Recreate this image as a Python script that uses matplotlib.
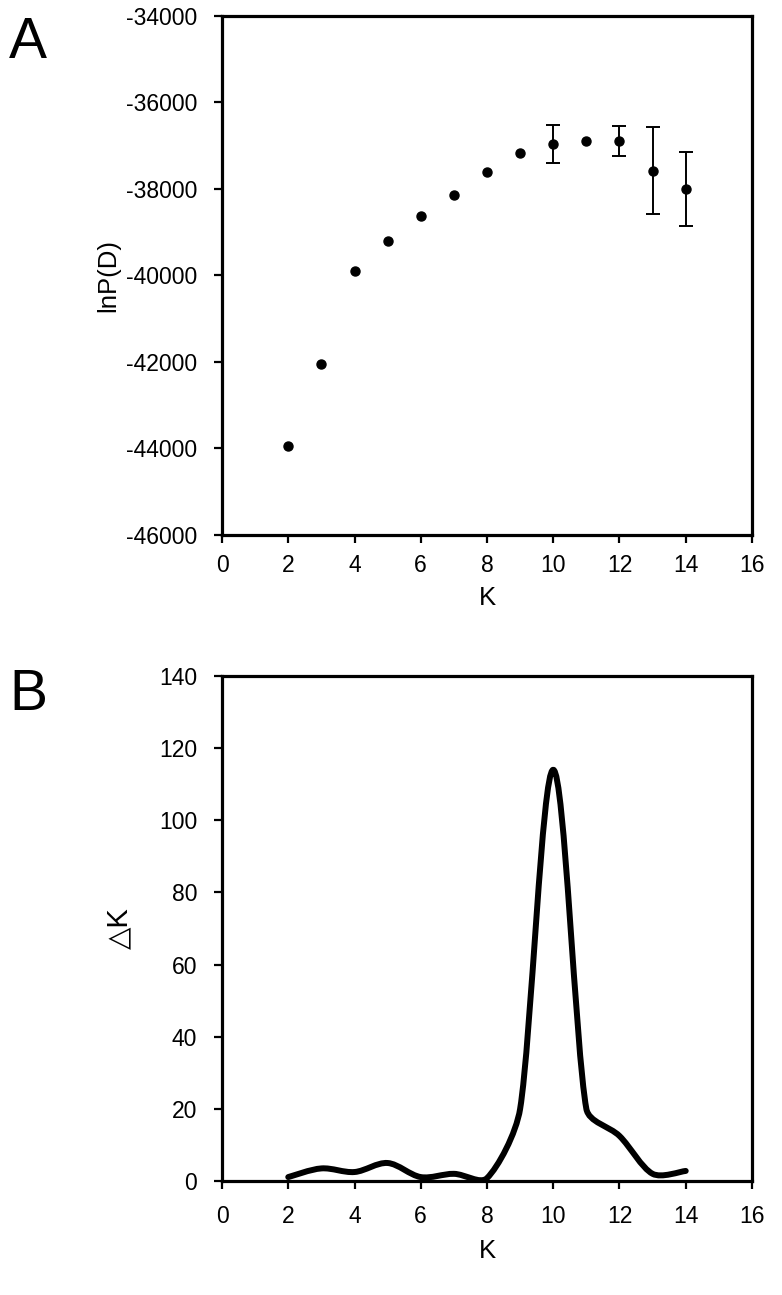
"""
Structure-style K selection plot: lnP(D) with SD (A) and Delta K (B).
"""
import matplotlib
matplotlib.use("Agg")
import matplotlib.pyplot as plt
from matplotlib.path import Path
from matplotlib.patches import PathPatch

plt.rcParams['font.family'] = ['Liberation Sans', 'DejaVu Sans']
plt.rcParams['axes.unicode_minus'] = False

# panel A data
k_values = [2, 3, 4, 5, 6, 7, 8, 9, 10, 11, 12, 13, 14]
ln_p = [-43940, -42040, -39900, -39200, -38620, -38140, -37600,
        -37170, -36960, -36890, -36890, -37580, -38000]
ln_p_sd = [0, 0, 0, 0, 0, 0, 0, 0, 440, 0, 340, 1010, 850]

# panel B data
delta_k = [1.1, 3.5, 2.5, 5.0, 1.1, 2.0, 0.8, 20.0, 114.0, 20.0, 12.5, 2.0, 2.8]

a_yticks = [-46000, -44000, -42000, -40000, -38000, -36000, -34000]
b_yticks = [0, 20, 40, 60, 80, 100, 120, 140]
x_ticks = list(range(0, 17, 2))

FS = 16.5
LFS = 18.5
FIG_W, FIG_H = 7.82, 12.95
AX_A = [0.2839, 0.5869, 0.6777, 0.4008]
AX_B = [0.2839, 0.0880, 0.6777, 0.3900]


def style_axes(ax, xpad=8):
    for side in ('left', 'bottom', 'right', 'top'):
        ax.spines[side].set_linewidth(2.3)
    ax.tick_params(direction='out', length=6, width=1.6, labelsize=FS,
                   top=False, right=False)
    ax.tick_params(axis='x', pad=xpad)
    ax.tick_params(axis='y', pad=12)


def smooth_path(xs, ys, sx, sy, f=1.0 / 6):
    """Excel-like smoothed line made of cubic Bezier segments.
    sx, sy: pixels per data unit, so distances are measured on screen."""
    n = len(xs)
    px = [x * sx for x in xs]
    py = [y * sy for y in ys]

    def dist(i, j):
        return ((px[j] - px[i]) ** 2 + (py[j] - py[i]) ** 2) ** 0.5

    verts = [(xs[0], ys[0])]
    codes = [Path.MOVETO]
    for i in range(n - 1):
        i0 = max(i - 1, 0)
        i3 = min(i + 2, n - 1)
        d01, d12, d23 = dist(i0, i), dist(i, i + 1), dist(i + 1, i3)
        s1 = min(1.0, 2 * d12 / (d01 + d12)) if d01 > 0 else 1.0
        s2 = min(1.0, 2 * d12 / (d12 + d23)) if d23 > 0 else 1.0
        c1 = (px[i] + (px[i + 1] - px[i0]) * f * s1,
              py[i] + (py[i + 1] - py[i0]) * f * s1)
        c2 = (px[i + 1] - (px[i3] - px[i]) * f * s2,
              py[i + 1] - (py[i3] - py[i]) * f * s2)
        verts += [(c1[0] / sx, c1[1] / sy), (c2[0] / sx, c2[1] / sy),
                  (xs[i + 1], ys[i + 1])]
        codes += [Path.CURVE4] * 3
    return Path(verts, codes)


fig = plt.figure(figsize=(FIG_W, FIG_H), dpi=100)

# ---- A ----
ax1 = fig.add_axes(AX_A)
ax1.plot(k_values, ln_p, 'o', color='black', markersize=6.5)
err_k = [k for k, s in zip(k_values, ln_p_sd) if s > 0]
err_v = [v for v, s in zip(ln_p, ln_p_sd) if s > 0]
err_s = [s for s in ln_p_sd if s > 0]
ax1.errorbar(err_k, err_v, yerr=err_s, fmt='none', ecolor='black',
             elinewidth=1.4, capsize=5, capthick=1.4)
ax1.set_xlim(0, 16)
ax1.set_ylim(-46000, -34000)
ax1.set_xticks(x_ticks)
ax1.set_yticks(a_yticks)
ax1.set_xlabel('K', fontsize=LFS, labelpad=6)
ax1.set_ylabel('lnP(D)', fontsize=LFS, labelpad=4)
style_axes(ax1)

# ---- B ----
ax2 = fig.add_axes(AX_B)
sx = FIG_W * 100 * AX_B[2] / 16.0
sy = FIG_H * 100 * AX_B[3] / 140.0
ax2.add_patch(PathPatch(smooth_path(k_values, delta_k, sx, sy),
                        facecolor='none', edgecolor='black', linewidth=4.3,
                        capstyle='round', joinstyle='round', zorder=3))
ax2.set_xlim(0, 16)
ax2.set_ylim(0, 140)
ax2.set_xticks(x_ticks)
ax2.set_yticks(b_yticks)
ax2.set_xlabel('K', fontsize=LFS, labelpad=8)
ax2.set_ylabel('\u25b3K', fontsize=21, labelpad=18)
style_axes(ax2, xpad=11)

fig.text(0.012, 0.988, 'A', fontsize=41, va='top', ha='left')
fig.text(0.012, 0.484, 'B', fontsize=41, va='top', ha='left')

fig.savefig('out.png', dpi=100)
